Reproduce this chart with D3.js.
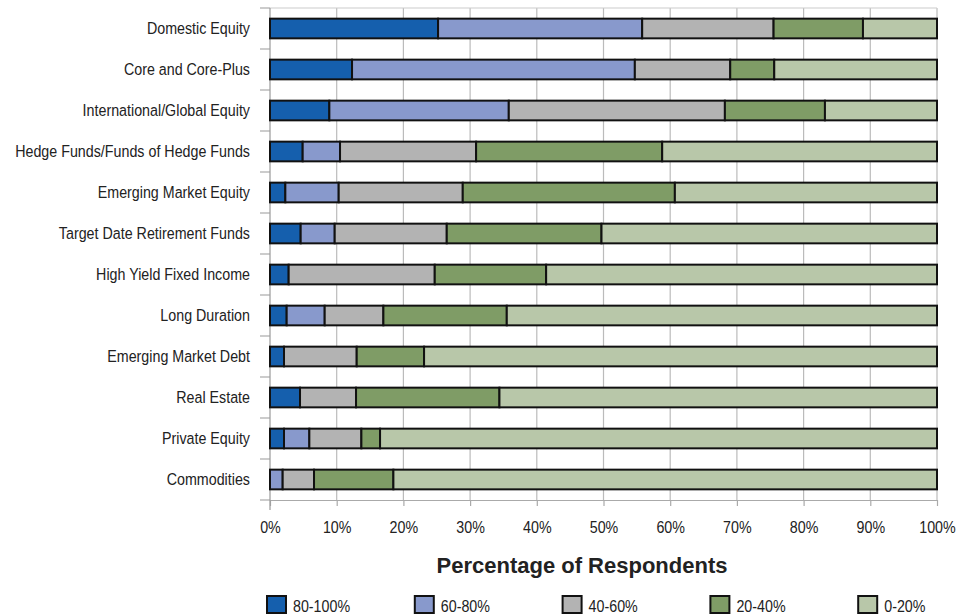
<!DOCTYPE html>
<html>
<head>
<meta charset="utf-8">
<script src="https://cdn.jsdelivr.net/npm/d3@7"></script>
<style>
  body { margin: 0; background: #fff; }
  svg text { font-family: 'Liberation Sans', Arial, sans-serif; fill: #222; }
</style>
</head>
<body>
<script>
const categories = [
  'Domestic Equity',
  'Core and Core-Plus',
  'International/Global Equity',
  'Hedge Funds/Funds of Hedge Funds',
  'Emerging Market Equity',
  'Target Date Retirement Funds',
  'High Yield Fixed Income',
  'Long Duration',
  'Emerging Market Debt',
  'Real Estate',
  'Private Equity',
  'Commodities',
];

const seriesNames = ['80-100%', '60-80%', '40-60%', '20-40%', '0-20%'];

// one array per series, in category order
const s80to100 = [25.2, 12.3, 8.9, 4.9, 2.3, 4.6, 2.8, 2.5, 2.1, 4.5, 2.1, 0];
const s60to80 = [30.6, 42.4, 26.9, 5.6, 8.0, 5.1, 0, 5.7, 0, 0, 3.8, 1.9];
const s40to60 = [19.7, 14.3, 32.4, 20.4, 18.6, 16.8, 21.9, 8.8, 10.9, 8.4, 7.8, 4.7];
const s20to40 = [13.4, 6.6, 15.0, 27.9, 31.8, 23.2, 16.7, 18.5, 10.1, 21.5, 2.8, 11.9];
const s0to20 = [11.1, 24.4, 16.8, 41.2, 39.3, 50.3, 58.6, 64.5, 76.9, 65.6, 83.5, 81.5];

const xTicks = [0, 10, 20, 30, 40, 50, 60, 70, 80, 90, 100];

const colors = ['#155fad', '#8899cc', '#b3b3b3', '#7f9c66', '#b8c7a9'];

const w = 957;
const h = 615;
const plotLeft = 270;
const plotRight = 937;
const plotTop = 8;
const plotBottom = 500;
const narrow = 0.84; // horizontal squeeze to mimic a condensed face

const rows = categories.map((c, i) => ({
  name: c,
  '80-100%': s80to100[i],
  '60-80%': s60to80[i],
  '40-60%': s40to60[i],
  '20-40%': s20to40[i],
  '0-20%': s0to20[i],
}));

const stacked = d3.stack().keys(seriesNames)(rows);

const svg = d3.select('body').append('svg').attr('width', w).attr('height', h);

const xScale = d3.scaleLinear().domain([0, 100]).range([plotLeft, plotRight]);
const yScale = d3
  .scaleBand()
  .domain(categories)
  .range([plotTop, plotBottom])
  .paddingInner(0.52)
  .paddingOuter(0.26);
const rowScale = d3.scaleBand().domain(categories).range([plotTop, plotBottom]);

// gridlines
svg
  .append('g')
  .selectAll('line')
  .data(xTicks.slice(1))
  .enter()
  .append('line')
  .attr('x1', (d) => xScale(d))
  .attr('x2', (d) => xScale(d))
  .attr('y1', plotTop)
  .attr('y2', plotBottom)
  .attr('stroke', '#bbbbbb')
  .attr('stroke-width', 1.2);

svg
  .append('line')
  .attr('x1', plotLeft)
  .attr('x2', plotRight)
  .attr('y1', plotTop)
  .attr('y2', plotTop)
  .attr('stroke', '#cccccc')
  .attr('stroke-width', 1.2);

// x axis
const xAxis = d3
  .axisBottom(xScale)
  .tickValues(xTicks)
  .tickSize(6)
  .tickSizeOuter(0)
  .tickPadding(15)
  .tickFormat((d) => d + '%');

const gx = svg.append('g').attr('transform', `translate(0, ${plotBottom})`).call(xAxis);
gx.select('.domain').attr('stroke', '#aaaaaa').attr('stroke-width', 1.2);
gx.selectAll('.tick line').attr('stroke', '#aaaaaa').attr('stroke-width', 1.2);
gx.selectAll('.tick text')
  .style('font-size', '17px')
  .style('font-family', "'Liberation Sans', Arial, sans-serif")
  .attr('fill', '#222')
  .attr('transform', `scale(${narrow}, 1)`);

// y axis: labels centred on rows, ticks on row boundaries
const yAxis = d3.axisLeft(rowScale).tickSize(0).tickPadding(20);
const gy = svg.append('g').attr('transform', `translate(${plotLeft}, 0)`).call(yAxis);
gy.select('.domain').remove();
gy.selectAll('.tick text')
  .style('font-size', '17px')
  .style('font-family', "'Liberation Sans', Arial, sans-serif")
  .attr('fill', '#222')
  .attr('x', -20 / narrow)
  .attr('transform', `scale(${narrow}, 1)`);

svg
  .append('g')
  .selectAll('line')
  .data(categories.map((c) => rowScale(c)).concat([plotBottom]))
  .enter()
  .append('line')
  .attr('x1', plotLeft - 10)
  .attr('x2', plotLeft)
  .attr('y1', (d) => d)
  .attr('y2', (d) => d)
  .attr('stroke', '#aaaaaa')
  .attr('stroke-width', 1.2);

svg
  .append('line')
  .attr('x1', plotLeft)
  .attr('x2', plotLeft)
  .attr('y1', plotTop)
  .attr('y2', plotBottom + 10)
  .attr('stroke', '#999999')
  .attr('stroke-width', 1.2);

// bars
svg
  .append('g')
  .selectAll('g')
  .data(stacked)
  .enter()
  .append('g')
  .attr('fill', (d, i) => colors[i])
  .selectAll('rect')
  .data((d) => d.filter((p) => p[1] - p[0] > 0))
  .enter()
  .append('rect')
  .attr('x', (d) => xScale(d[0]))
  .attr('y', (d) => yScale(d.data.name))
  .attr('width', (d) => xScale(d[1]) - xScale(d[0]))
  .attr('height', yScale.bandwidth())
  .attr('stroke', '#111')
  .attr('stroke-width', 2);

// axis title
svg
  .append('text')
  .attr('x', 582)
  .attr('y', 573)
  .attr('text-anchor', 'middle')
  .style('font-size', '22px')
  .style('font-weight', 'bold')
  .attr('fill', '#111')
  .text('Percentage of Respondents');

// legend
const legend = svg
  .append('g')
  .selectAll('g')
  .data(seriesNames)
  .enter()
  .append('g')
  .attr('transform', (d, i) => `translate(${267 + i * 147.8}, 596)`);

legend
  .append('rect')
  .attr('width', 19)
  .attr('height', 17)
  .attr('fill', (d, i) => colors[i])
  .attr('stroke', '#111')
  .attr('stroke-width', 2);

legend
  .append('text')
  .attr('transform', `translate(26, 16) scale(${narrow}, 1)`)
  .style('font-size', '17px')
  .text((d) => d);
</script>
</body>
</html>
